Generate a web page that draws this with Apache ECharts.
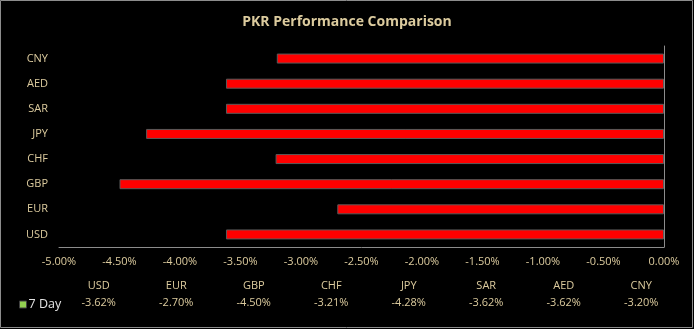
<!DOCTYPE html>
<html>
<head>
<meta charset="utf-8">
<script src="https://cdn.jsdelivr.net/npm/echarts@6/dist/echarts.min.js"></script>
<style>
html,body{margin:0;padding:0;background:#000;}
#c{width:694px;height:329px;}
</style>
</head>
<body>
<div id="c"></div>
<script>
// Data
const titleText = 'PKR Performance Comparison';
const seriesName = '7 Day';
const categories = ['USD', 'EUR', 'GBP', 'CHF', 'JPY', 'SAR', 'AED', 'CNY'];
const values = [-3.62, -2.70, -4.50, -3.21, -4.28, -3.62, -3.62, -3.20];
const xTicks = [-5.0, -4.5, -4.0, -3.5, -3.0, -2.5, -2.0, -1.5, -1.0, -0.5, 0.0];

const textColor = '#dccb9e';
const fontFam = '"Open Sans", "Noto Sans", sans-serif';

const chart = echarts.init(document.getElementById('c'), null, {renderer: 'canvas'});
const option = {
  backgroundColor: '#000',
  animation: false,
  title: {
    text: titleText,
    left: 'center',
    top: 10,
    textStyle: {color: textColor, fontSize: 14, fontWeight: 'bold', fontFamily: fontFam}
  },
  legend: {
    left: 14,
    top: 293,
    icon: 'rect',
    itemWidth: 7,
    itemHeight: 7,
    itemGap: 3,
    data: [{name: seriesName, itemStyle: {color: '#92d050', borderColor: '#404040', borderWidth: 1}}],
    textStyle: {color: '#e4e4e4', fontSize: 12.5, fontFamily: fontFam, padding: [0, 0, 0, -3]}
  },
  grid: [
    {left: 59, right: 30, top: 46, bottom: 82, containLabel: false},
    {left: 60, right: 14, top: 260, height: 15, containLabel: false}
  ],
  xAxis: [
    {
      gridIndex: 0,
      type: 'value',
      min: xTicks[0],
      max: xTicks[xTicks.length - 1],
      interval: 0.5,
      axisLine: {show: true, onZero: false, lineStyle: {color: '#8c8c8c', width: 1}},
      axisTick: {show: false},
      splitLine: {show: false},
      axisLabel: {
        color: textColor, fontSize: 11, fontFamily: fontFam, margin: 9,
        formatter: v => v.toFixed(2) + '%'
      }
    },
    {
      gridIndex: 1,
      type: 'category',
      data: categories,
      axisLine: {show: false},
      axisTick: {show: false},
      splitLine: {show: false},
      axisLabel: {
        interval: 0,
        margin: 2,
        formatter: (name, idx) => '{n|' + name + '}\n{v|' + values[idx].toFixed(2) + '%}',
        rich: {
          n: {color: textColor, fontSize: 11, fontFamily: fontFam, lineHeight: 17, align: 'center'},
          v: {color: textColor, fontSize: 11, fontFamily: fontFam, lineHeight: 17, align: 'center'}
        }
      }
    }
  ],
  yAxis: [
    {
      gridIndex: 0,
      type: 'category',
      data: categories,
      position: 'left',
      axisLine: {show: false, onZero: false},
      axisTick: {show: false},
      axisLabel: {color: textColor, fontSize: 11, fontFamily: fontFam, margin: 11}
    },
    {
      gridIndex: 0,
      type: 'category',
      data: categories,
      position: 'right',
      axisLine: {show: true, onZero: false, lineStyle: {color: '#8c8c8c', width: 1}},
      axisTick: {show: false},
      axisLabel: {show: false}
    },
    {
      gridIndex: 1,
      type: 'value',
      show: false
    }
  ],
  series: [
    {
      name: seriesName,
      type: 'bar',
      xAxisIndex: 0,
      yAxisIndex: 0,
      data: values,
      barWidth: 10,
      itemStyle: {color: '#ff0000', borderColor: '#5a5a5a', borderWidth: 1}
    }
  ],
  graphic: [
    {
      type: 'rect',
      silent: true,
      shape: {x: 0.5, y: 0.5, width: 692, height: 327},
      style: {fill: null, stroke: '#8c8c8c', lineWidth: 1}
    }
  ]
};
chart.setOption(option);
</script>
</body>
</html>
